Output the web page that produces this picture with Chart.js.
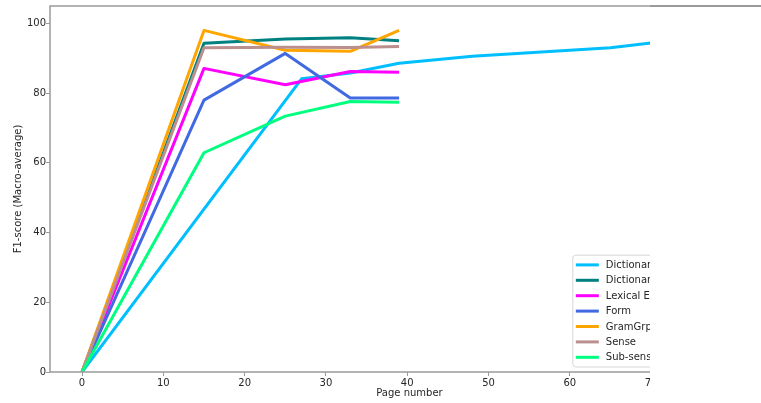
<!DOCTYPE html>
<html>
<head>
<meta charset="utf-8">
<script src="https://cdn.jsdelivr.net/npm/chart.js@4.4.1/dist/chart.umd.min.js"></script>
<style>
  html, body { margin: 0; padding: 0; background: #fff; }
  #frame { position: relative; width: 761px; height: 403px; overflow: hidden; background: #fff; }
  #clip { position: absolute; left: 0; top: 0; width: 650px; height: 403px; overflow: hidden; }
  #plot { position: absolute; left: 0; top: 0; }
  #spine { position: absolute; left: 650px; top: 5.25px; width: 111px; height: 1.5px; background: #9a9a9a; }
</style>
</head>
<body>
<div id="frame">
  <div id="clip"><canvas id="plot" width="770" height="403"></canvas></div>
  <div id="spine"></div>
</div>
<script>
// Model names and colours, in plotting order
const seriesNames = ['Dictionary Segmentation', 'Dictionary Body Segmentation', 'Lexical Entry', 'Form', 'GramGrp', 'Sense', 'Sub-sense'];
const seriesColors = ['#00bfff', '#008080', '#ff00ff', '#4169e1', '#ffa500', '#bc8f8f', '#00ff7f'];

// Dictionary segmentation was trained on its own set of page counts
const dictionaryPages = [0, 27, 33, 39, 48, 65, 77];
const dictionaryScores = [0, 84.1, 85.8, 88.6, 90.6, 93.0, 96.3];

// The other models share these page counts
const modelPages = [0, 15, 25, 33, 39];
const dictionaryBodyScores = [0, 94.3, 95.5, 95.9, 95.0];
const lexicalEntryScores = [0, 87.1, 82.4, 86.2, 86.0];
const formScores = [0, 78.0, 91.4, 78.6, 78.6];
const gramGrpScores = [0, 98.0, 92.3, 92.0, 98.0];
const senseScores = [0, 93.0, 93.2, 93.1, 93.4];
const subSenseScores = [0, 62.9, 73.4, 77.6, 77.4];

const xTickValues = [0, 10, 20, 30, 40, 50, 60, 70, 80];
const yTickValues = [0, 20, 40, 60, 80, 100];

const seriesPages = [dictionaryPages, modelPages, modelPages, modelPages, modelPages, modelPages, modelPages];
const seriesScores = [dictionaryScores, dictionaryBodyScores, lexicalEntryScores, formScores, gramGrpScores, senseScores, subSenseScores];

const FONT = '"DejaVu Sans", sans-serif';
const TEXT = '#262626';
const SPINE = '#9a9a9a';

const datasets = seriesNames.map((name, i) => ({
  label: name,
  data: seriesPages[i].map((p, k) => ({ x: p, y: seriesScores[i][k] })),
  borderColor: seriesColors[i],
  backgroundColor: seriesColors[i],
  borderWidth: 3,
  pointRadius: 0,
  tension: 0,
  fill: false,
  borderJoinStyle: 'round',
  borderCapStyle: 'butt',
  order: seriesNames.length - i   // later series drawn on top
}));

// Axes frame drawn over the lines; the top edge continues past the plot clip
const frame = {
  id: 'frame',
  afterDatasetsDraw(chart) {
    const { ctx, chartArea: a } = chart;
    ctx.save();
    ctx.strokeStyle = SPINE;
    ctx.lineWidth = 1.5;
    ctx.strokeRect(a.left, a.top, a.right - a.left, a.bottom - a.top);
    ctx.restore();
    document.getElementById('spine').style.top = (a.top - 0.75) + 'px';
  }
};

// Boxed legend in the lower right corner of the plot
const legendBox = {
  id: 'legendBox',
  afterDraw(chart) {
    const { ctx, chartArea: a } = chart;
    ctx.save();
    ctx.font = '10px ' + FONT;
    const textW = Math.max(...seriesNames.map(n => ctx.measureText(n).width));
    const rowH = 15.4;
    const w = textW + 38;
    const h = rowH * seriesNames.length + 4;
    const right = a.right - 5, bottom = a.bottom - 5;
    const left = right - w, top = bottom - h;
    const r = 3;
    ctx.beginPath();
    ctx.moveTo(left + r, top);
    ctx.lineTo(right - r, top);
    ctx.arcTo(right, top, right, top + r, r);
    ctx.lineTo(right, bottom - r);
    ctx.arcTo(right, bottom, right - r, bottom, r);
    ctx.lineTo(left + r, bottom);
    ctx.arcTo(left, bottom, left, bottom - r, r);
    ctx.lineTo(left, top + r);
    ctx.arcTo(left, top, left + r, top, r);
    ctx.closePath();
    ctx.fillStyle = 'rgba(255,255,255,0.8)';
    ctx.fill();
    ctx.strokeStyle = '#d6d6d6';
    ctx.lineWidth = 1;
    ctx.stroke();
    ctx.textBaseline = 'middle';
    ctx.textAlign = 'left';
    seriesNames.forEach((name, i) => {
      const cy = top + 2 + rowH * (i + 0.5);
      ctx.strokeStyle = seriesColors[i];
      ctx.lineWidth = 3;
      ctx.beginPath();
      ctx.moveTo(left + 3, cy);
      ctx.lineTo(left + 26, cy);
      ctx.stroke();
      ctx.fillStyle = TEXT;
      ctx.fillText(name, left + 33, cy + 0.5);
    });
    ctx.restore();
  }
};

new Chart(document.getElementById('plot'), {
  type: 'line',
  data: { datasets },
  plugins: [frame, legendBox],
  options: {
    responsive: false,
    animation: false,
    layout: { padding: { top: 6, right: 1, bottom: 0, left: 0 } },
    plugins: { legend: { display: false }, tooltip: { enabled: false } },
    scales: {
      x: {
        type: 'linear',
        min: -3.94,
        max: 84.5,
        afterFit(scale) { scale.height = 31; },
        afterBuildTicks(scale) { scale.ticks = xTickValues.map(v => ({ value: v })); },
        border: { display: false },
        grid: { drawOnChartArea: false, drawTicks: true, tickLength: 4, color: SPINE, lineWidth: 1 },
        ticks: { color: TEXT, font: { family: FONT, size: 10 }, padding: 1, maxRotation: 0, autoSkip: false },
        title: { display: true, text: 'Page number', color: TEXT, font: { family: FONT, size: 10 }, padding: { top: 0, bottom: 4 } }
      },
      y: {
        type: 'linear',
        min: 0,
        max: 105,
        afterFit(scale) { scale.width = 50; },
        afterBuildTicks(scale) { scale.ticks = yTickValues.map(v => ({ value: v })); },
        border: { display: false },
        grid: { drawOnChartArea: false, drawTicks: true, tickLength: 4, color: SPINE, lineWidth: 1 },
        ticks: { color: TEXT, font: { family: FONT, size: 10 }, padding: 0 },
        title: { display: true, text: 'F1-score (Macro-average)', color: TEXT, font: { family: FONT, size: 10 }, padding: { top: 12, bottom: 0 } }
      }
    }
  }
});
</script>
</body>
</html>
